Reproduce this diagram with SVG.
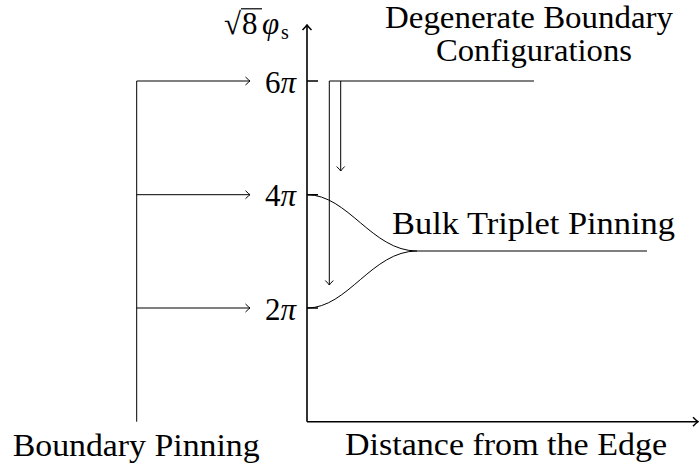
<svg xmlns="http://www.w3.org/2000/svg" width="699" height="466" viewBox="0 0 699 466" font-family="Liberation Serif">
<defs>
<style>
.t{font-size:31px;fill:#000}
.ln{fill:none;stroke:#000;stroke-width:1}
.ax{fill:none;stroke:#000;stroke-width:1.6}
.it{font-style:italic}
</style>
<marker id="ah" viewBox="-6 -5 8 10" markerWidth="8" markerHeight="10" refX="0" refY="0" orient="auto" markerUnits="userSpaceOnUse">
<path d="M-4.5,-4 Q-1.2,-0.8 0,0 Q-1.2,0.8 -4.5,4" fill="none" stroke="#000" stroke-width="1"/>
</marker>
<marker id="ahb" viewBox="-7 -6 9 12" markerWidth="9" markerHeight="12" refX="0" refY="0" orient="auto" markerUnits="userSpaceOnUse">
<path d="M-5,-4.5 Q-1.4,-1 0,0 Q-1.4,1 -5,4.5" fill="none" stroke="#000" stroke-width="1.5"/>
</marker>
</defs>
<g id="axes">
<path class="ax" d="M307,421.7 V25" marker-end="url(#ahb)"/>
<path class="ax" d="M307,421.7 H698" marker-end="url(#ahb)"/>
<path class="ax" d="M307,81 H318 M307,194.7 H318 M307,308 H318"/>
</g>
<g id="connectors">
<path class="ln" d="M136.7,421.7 V81 H250" marker-end="url(#ah)"/>
<path class="ln" d="M136.7,194.7 H250" marker-end="url(#ah)"/>
<path class="ln" d="M136.7,308 H250" marker-end="url(#ah)"/>
<path class="ln" d="M534,81 H329.3 V285" marker-end="url(#ah)"/>
<path class="ln" d="M340.7,81 V171" marker-end="url(#ah)"/>
<path class="ln" d="M307,194.7 C348,194.7 372,251 417,251 H647"/>
<path class="ln" d="M307,308 C348,308 372,251 417,251"/>
</g>
<g id="label-yaxis">
<text class="t" x="224" y="33.5">√</text>
<line x1="241" y1="8.8" x2="262" y2="8.8" stroke="#000" stroke-width="1.2"/>
<text class="t" x="242" y="33.5">8</text>
<text class="t it" x="262" y="33.5">φ</text>
<text class="t" x="281" y="38.5" style="font-size:20px">s</text>
</g>
<g id="tick-labels">
<text class="t" x="296" y="92.7" text-anchor="end">6<tspan class="it">π</tspan></text>
<text class="t" x="296" y="206.4" text-anchor="end">4<tspan class="it">π</tspan></text>
<text class="t" x="296" y="319.7" text-anchor="end">2<tspan class="it">π</tspan></text>
</g>
<g id="degenerate">
<text class="t" x="385" y="28" textLength="288" lengthAdjust="spacingAndGlyphs">Degenerate Boundary</text>
<text class="t" x="436" y="61" textLength="196" lengthAdjust="spacingAndGlyphs">Configurations</text>
</g>
<g id="bulk">
<text class="t" x="392" y="234.3" textLength="283" lengthAdjust="spacingAndGlyphs">Bulk Triplet Pinning</text>
</g>
<g id="boundary">
<text class="t" x="12.7" y="456" textLength="247" lengthAdjust="spacingAndGlyphs">Boundary Pinning</text>
</g>
<g id="distance">
<text class="t" x="345" y="455" textLength="322" lengthAdjust="spacingAndGlyphs">Distance from the Edge</text>
</g>
</svg>
